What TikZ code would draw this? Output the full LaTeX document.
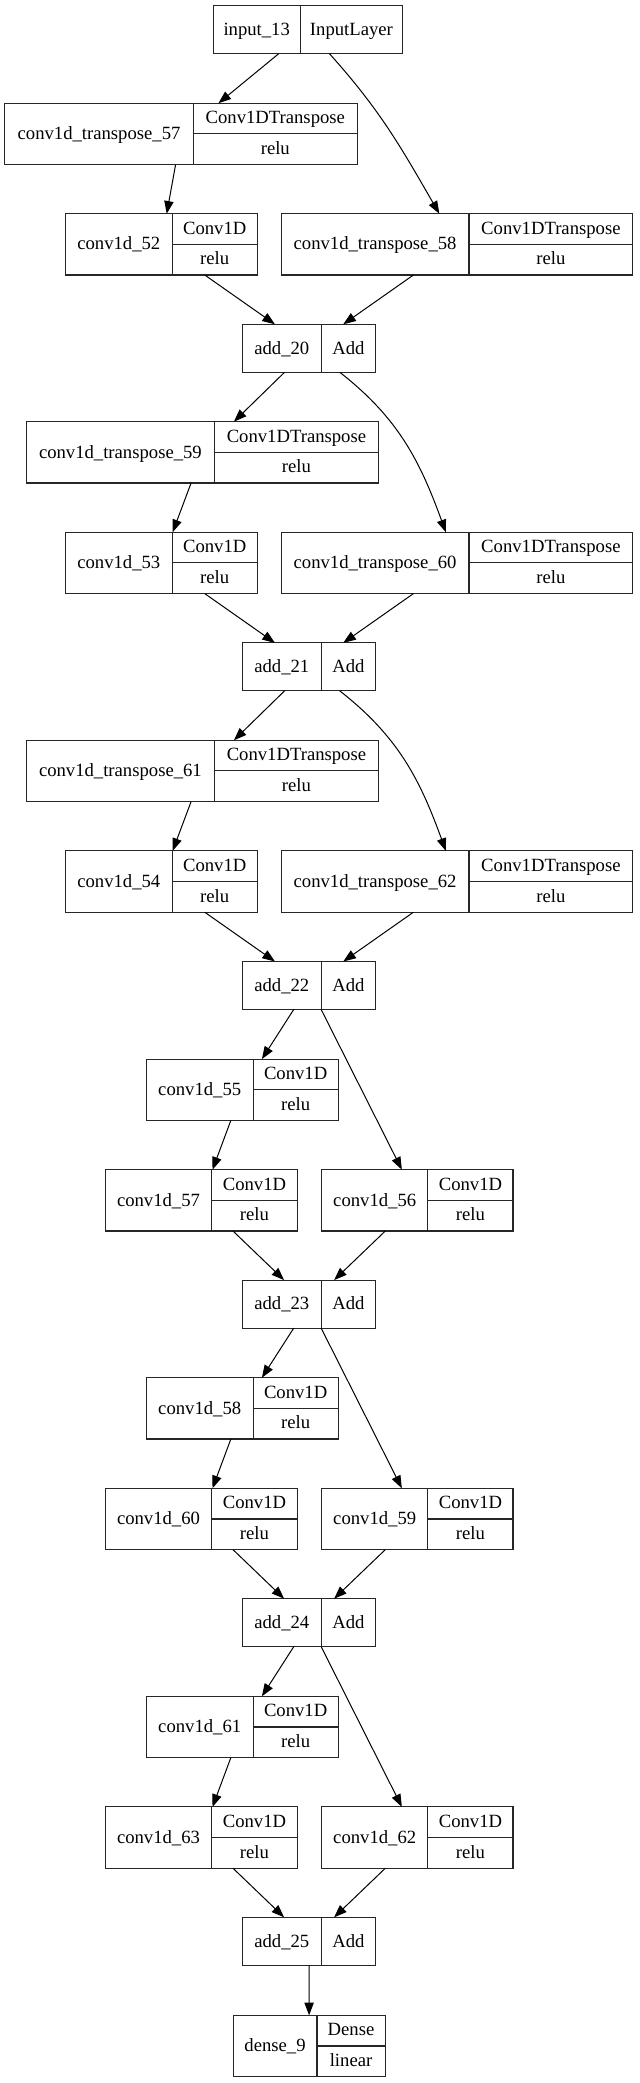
\documentclass[tikz,border=0pt]{standalone}
\usepackage{fontspec}
\setmainfont{Liberation Serif}
\usetikzlibrary{arrows.meta}

% one-row record: name, left x, divider x, right x, top y, label, layer type
\newcommand{\lone}[7]{%
  \node[rec, minimum width={(#4-#2)*0.75pt}, minimum height=36pt] (#1) at ({(#2+#4)/2},{#5+24}) {};
  \draw[sep] (#3,#5) -- (#3,#5+48);
  \node[txt] at ({(#2+#3)/2},{#5+29.7}) {#6};
  \node[txt] at ({(#3+#4)/2},{#5+29.7}) {#7};
}
% two-row record: name, left x, divider x, right x, top y, label, layer type, activation
\newcommand{\ltwo}[8]{%
  \node[rec, minimum width={(#4-#2)*0.75pt}, minimum height=45.975pt] (#1) at ({(#2+#4)/2},{#5+30.65}) {};
  \draw[sep] (#3,#5) -- (#3,#5+61.3) (#3,#5+30.65) -- (#4,#5+30.65);
  \node[txt] at ({(#2+#3)/2},{#5+36.3}) {#6};
  \node[txt] at ({(#3+#4)/2},{#5+20.5}) {#7};
  \node[txt] at ({(#3+#4)/2},{#5+51.2}) {#8};
}

\begin{document}
\begin{tikzpicture}[x=0.75pt, y=-0.75pt,
    rec/.style={draw=black!85, line width=0.8pt, inner sep=0pt, outer sep=0pt},
    sep/.style={draw=black!85, line width=0.8pt},
    txt/.style={font=\fontsize{14}{16}\selectfont, anchor=base, inner sep=0pt},
    arr/.style={-{Triangle[length=9.5pt,width=7pt]}, line width=0.75pt}]

    \fill[white] (0,0) rectangle (639,2083);

    % input and the first transpose block
    \lone{in13}{213.1}{300.3}{402.6}{5.7}{input\_13}{InputLayer}
    \ltwo{ct57}{4.9}{193.2}{357.4}{103.3}{conv1d\_transpose\_57}{Conv1DTranspose}{relu}
    \ltwo{c52}{65.2}{172.4}{257.1}{213.7}{conv1d\_52}{Conv1D}{relu}
    \ltwo{ct58}{281.2}{469.0}{632.8}{213.7}{conv1d\_transpose\_58}{Conv1DTranspose}{relu}
    \lone{add20}{242.5}{321.1}{375.7}{324.3}{add\_20}{Add}

    % second transpose block
    \ltwo{ct59}{26.5}{214.3}{378.6}{421.7}{conv1d\_transpose\_59}{Conv1DTranspose}{relu}
    \ltwo{c53}{65.2}{172.4}{257.1}{532.3}{conv1d\_53}{Conv1D}{relu}
    \ltwo{ct60}{281.2}{469.0}{632.8}{532.3}{conv1d\_transpose\_60}{Conv1DTranspose}{relu}
    \lone{add21}{242.5}{321.1}{375.7}{642.9}{add\_21}{Add}

    % third transpose block
    \ltwo{ct61}{26.5}{214.3}{378.6}{740.3}{conv1d\_transpose\_61}{Conv1DTranspose}{relu}
    \ltwo{c54}{65.2}{172.4}{257.1}{850.9}{conv1d\_54}{Conv1D}{relu}
    \ltwo{ct62}{281.2}{469.0}{632.8}{850.9}{conv1d\_transpose\_62}{Conv1DTranspose}{relu}
    \lone{add22}{242.5}{321.1}{375.7}{961.5}{add\_22}{Add}

    % the three conv blocks
    \ltwo{c55}{146.3}{253.1}{338.2}{1059.1}{conv1d\_55}{Conv1D}{relu}
    \ltwo{c57}{105.1}{211.9}{297.1}{1169.7}{conv1d\_57}{Conv1D}{relu}
    \ltwo{c56}{321.5}{427.9}{513.0}{1169.7}{conv1d\_56}{Conv1D}{relu}
    \lone{add23}{242.5}{321.1}{375.7}{1280.1}{add\_23}{Add}

    \ltwo{c58}{146.3}{253.1}{338.2}{1377.7}{conv1d\_58}{Conv1D}{relu}
    \ltwo{c60}{105.1}{211.9}{297.1}{1488.3}{conv1d\_60}{Conv1D}{relu}
    \ltwo{c59}{321.5}{427.9}{513.0}{1488.3}{conv1d\_59}{Conv1D}{relu}
    \lone{add24}{242.5}{321.1}{375.7}{1598.7}{add\_24}{Add}

    \ltwo{c61}{146.3}{253.1}{338.2}{1696.3}{conv1d\_61}{Conv1D}{relu}
    \ltwo{c63}{105.1}{211.9}{297.1}{1806.9}{conv1d\_63}{Conv1D}{relu}
    \ltwo{c62}{321.5}{427.9}{513.0}{1806.9}{conv1d\_62}{Conv1D}{relu}
    \lone{add25}{242.5}{321.1}{375.7}{1917.3}{add\_25}{Add}

    % output
    \ltwo{dense9}{233.1}{317.0}{385.1}{2015.3}{dense\_9}{Dense}{linear}

    % edges
    \draw[arr] (in13) -- (ct57);
    \draw[arr] (in13) to[out=-48,in=120] (ct58);
    \draw[arr] (ct57) -- (c52);
    \draw[arr] (c52) -- (add20); \draw[arr] (ct58) -- (add20);

    \draw[arr] (add20) -- (ct59);
    \draw[arr] (add20) to[out=-38,in=110] (ct60);
    \draw[arr] (ct59) -- (c53);
    \draw[arr] (c53) -- (add21); \draw[arr] (ct60) -- (add21);

    \draw[arr] (add21) -- (ct61);
    \draw[arr] (add21) to[out=-38,in=110] (ct62);
    \draw[arr] (ct61) -- (c54);
    \draw[arr] (c54) -- (add22); \draw[arr] (ct62) -- (add22);

    \draw[arr] (add22) -- (c55); \draw[arr] (add22) -- (c56);
    \draw[arr] (c55) -- (c57);
    \draw[arr] (c57) -- (add23); \draw[arr] (c56) -- (add23);

    \draw[arr] (add23) -- (c58); \draw[arr] (add23) -- (c59);
    \draw[arr] (c58) -- (c60);
    \draw[arr] (c60) -- (add24); \draw[arr] (c59) -- (add24);

    \draw[arr] (add24) -- (c61); \draw[arr] (add24) -- (c62);
    \draw[arr] (c61) -- (c63);
    \draw[arr] (c63) -- (add25); \draw[arr] (c62) -- (add25);

    \draw[arr] (add25) -- (dense9);
\end{tikzpicture}
\end{document}
